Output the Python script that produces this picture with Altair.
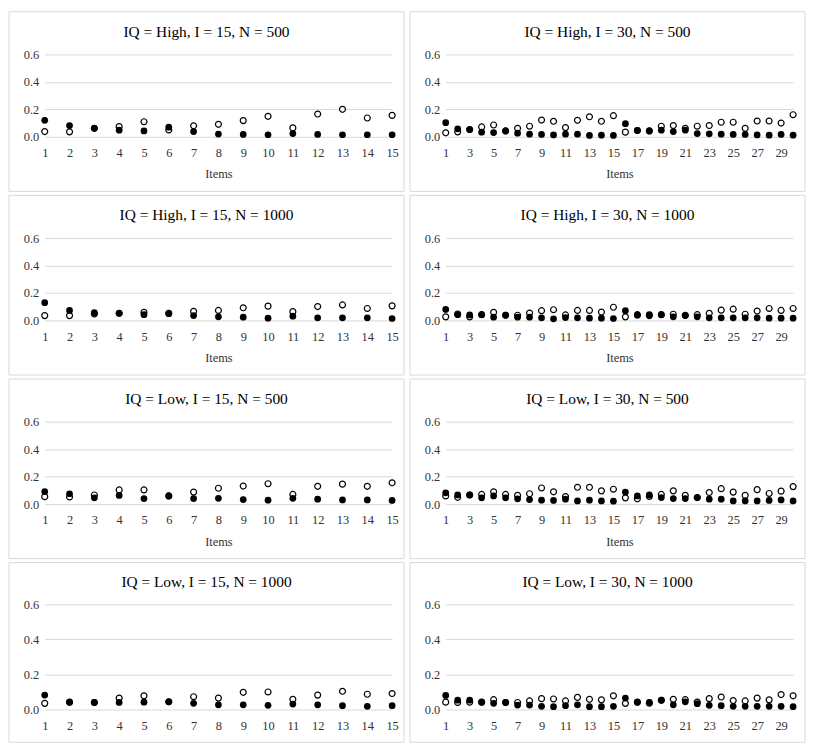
import altair as alt
import pandas as pd

# ---- data ----
items15 = list(range(1, 16))
items30 = list(range(1, 31))
ticks15 = list(range(1, 16))
ticks30 = list(range(1, 30, 2))
y_ticks = [0.0, 0.2, 0.4, 0.6]

hi15_500_filled = [0.120, 0.082, 0.062, 0.048, 0.043, 0.070, 0.038, 0.020, 0.017, 0.015, 0.024, 0.017, 0.015, 0.015, 0.015]
hi15_500_open = [0.038, 0.036, 0.062, 0.074, 0.110, 0.050, 0.080, 0.091, 0.118, 0.149, 0.065, 0.166, 0.200, 0.137, 0.156]

hi30_500_filled = [0.103, 0.058, 0.053, 0.034, 0.031, 0.043, 0.026, 0.019, 0.017, 0.014, 0.019, 0.019, 0.010, 0.012, 0.010,
                   0.096, 0.046, 0.043, 0.048, 0.038, 0.048, 0.024, 0.022, 0.019, 0.017, 0.017, 0.014, 0.012, 0.017, 0.012]
hi30_500_open = [0.029, 0.036, 0.053, 0.072, 0.086, 0.043, 0.062, 0.077, 0.122, 0.113, 0.067, 0.120, 0.146, 0.113, 0.154,
                 0.034, 0.046, 0.043, 0.077, 0.082, 0.062, 0.077, 0.082, 0.106, 0.106, 0.062, 0.115, 0.115, 0.100, 0.161]

hi15_1000_filled = [0.129, 0.073, 0.056, 0.052, 0.042, 0.049, 0.035, 0.026, 0.024, 0.016, 0.031, 0.019, 0.019, 0.019, 0.014]
hi15_1000_open = [0.035, 0.035, 0.047, 0.052, 0.059, 0.052, 0.066, 0.073, 0.092, 0.104, 0.064, 0.101, 0.113, 0.087, 0.106]

hi30_1000_filled = [0.080, 0.042, 0.040, 0.042, 0.024, 0.038, 0.024, 0.024, 0.019, 0.012, 0.021, 0.019, 0.016, 0.016, 0.014,
                    0.071, 0.038, 0.042, 0.042, 0.026, 0.035, 0.026, 0.019, 0.019, 0.019, 0.019, 0.019, 0.016, 0.016, 0.016]
hi30_1000_open = [0.026, 0.047, 0.026, 0.042, 0.059, 0.038, 0.038, 0.054, 0.071, 0.078, 0.040, 0.073, 0.073, 0.061, 0.096,
                  0.026, 0.042, 0.035, 0.042, 0.045, 0.038, 0.042, 0.052, 0.075, 0.082, 0.045, 0.068, 0.087, 0.073, 0.087]

lo15_500_filled = [0.091, 0.075, 0.045, 0.063, 0.040, 0.059, 0.040, 0.042, 0.033, 0.028, 0.042, 0.035, 0.030, 0.030, 0.026]
lo15_500_open = [0.054, 0.052, 0.066, 0.103, 0.103, 0.059, 0.087, 0.115, 0.131, 0.148, 0.070, 0.129, 0.145, 0.129, 0.155]

lo30_500_filled = [0.082, 0.066, 0.066, 0.045, 0.059, 0.045, 0.038, 0.033, 0.028, 0.026, 0.035, 0.023, 0.028, 0.023, 0.021,
                   0.087, 0.059, 0.066, 0.047, 0.040, 0.040, 0.047, 0.035, 0.035, 0.023, 0.023, 0.023, 0.026, 0.030, 0.023]
lo30_500_open = [0.059, 0.049, 0.066, 0.070, 0.089, 0.070, 0.063, 0.075, 0.117, 0.089, 0.054, 0.122, 0.122, 0.096, 0.108,
                 0.045, 0.038, 0.056, 0.070, 0.096, 0.063, 0.047, 0.084, 0.112, 0.087, 0.063, 0.105, 0.077, 0.094, 0.127]

lo15_1000_filled = [0.082, 0.042, 0.040, 0.040, 0.042, 0.044, 0.035, 0.027, 0.027, 0.024, 0.031, 0.027, 0.022, 0.018, 0.022]
lo15_1000_open = [0.035, 0.042, 0.040, 0.065, 0.078, 0.044, 0.073, 0.065, 0.098, 0.100, 0.058, 0.082, 0.104, 0.087, 0.091]

lo30_1000_filled = [0.080, 0.053, 0.053, 0.042, 0.035, 0.040, 0.025, 0.025, 0.018, 0.016, 0.022, 0.027, 0.016, 0.016, 0.018,
                    0.065, 0.042, 0.040, 0.053, 0.027, 0.044, 0.033, 0.024, 0.022, 0.018, 0.018, 0.018, 0.018, 0.018, 0.016]
lo30_1000_open = [0.042, 0.040, 0.042, 0.042, 0.056, 0.040, 0.040, 0.049, 0.062, 0.060, 0.049, 0.069, 0.058, 0.055, 0.078,
                  0.035, 0.042, 0.036, 0.053, 0.058, 0.056, 0.042, 0.062, 0.071, 0.051, 0.049, 0.065, 0.055, 0.085, 0.078]

FONT = "Liberation Serif"
BORDER = "#d9d9d9"
LABEL = "#333333"


def panel(title, items, ticks, filled, hollow, bottom=False):
    n = len(items)
    df = pd.DataFrame({
        "item": items + items,
        "value": filled + hollow,
        "series": ["filled"] * n + ["open"] * n,
    })
    pw = 350
    left, right = 36, 12
    if bottom:
        ph, top, below = 106, 42, 33
    else:
        ph, top, below = 83, 43, 55

    x = alt.X("item:Q",
              scale=alt.Scale(domain=[items[0], items[-1]], nice=False, zero=False),
              axis=alt.Axis(values=ticks, title=None if bottom else "Items",
                            grid=False, domain=False, ticks=False,
                            labelFont=FONT, labelFontSize=12.5, labelColor=LABEL,
                            titleFont=FONT, titleFontSize=12.5, titleColor=LABEL,
                            titleFontWeight="normal",
                            labelPadding=10, titlePadding=9,
                            labelFlush=False, labelOverlap=False))
    y = alt.Y("value:Q",
              scale=alt.Scale(domain=[0, 0.6], nice=False),
              axis=alt.Axis(values=y_ticks, format=".1f", title=None,
                            labelFont=FONT, labelFontSize=12.5, labelColor=LABEL,
                            grid=True, gridColor=BORDER, gridWidth=1,
                            domain=False, ticks=False, labelPadding=6))

    frame = alt.Chart(pd.DataFrame({"k": [0]})).mark_rect(
        fillOpacity=0, stroke=BORDER, strokeWidth=1
    ).encode(x=alt.value(-left), x2=alt.value(pw + right),
             y=alt.value(-top), y2=alt.value(ph + below))

    ttl = alt.Chart(pd.DataFrame({"t": [title]})).mark_text(
        font=FONT, fontSize=15.5, color="black", align="center", baseline="middle"
    ).encode(text="t:N", x=alt.value((pw + right - left) / 2), y=alt.value(-top + 20))

    hollow_pts = alt.Chart(df[df.series == "open"]).mark_point(
        shape="circle", filled=True, fill="white", stroke="black",
        strokeWidth=1.2, size=36, opacity=1
    ).encode(x=x, y=y)

    filled_pts = alt.Chart(df[df.series == "filled"]).mark_circle(
        size=46, color="black", opacity=1
    ).encode(x=x, y=y)

    return alt.layer(frame, ttl, hollow_pts, filled_pts).properties(width=pw, height=ph)


rows = [
    alt.hconcat(panel("IQ = High, I = 15, N = 500", items15, ticks15, hi15_500_filled, hi15_500_open),
                panel("IQ = High, I = 30, N = 500", items30, ticks30, hi30_500_filled, hi30_500_open), spacing=4),
    alt.hconcat(panel("IQ = High, I = 15, N = 1000", items15, ticks15, hi15_1000_filled, hi15_1000_open),
                panel("IQ = High, I = 30, N = 1000", items30, ticks30, hi30_1000_filled, hi30_1000_open), spacing=4),
    alt.hconcat(panel("IQ = Low, I = 15, N = 500", items15, ticks15, lo15_500_filled, lo15_500_open),
                panel("IQ = Low, I = 30, N = 500", items30, ticks30, lo30_500_filled, lo30_500_open), spacing=4),
    alt.hconcat(panel("IQ = Low, I = 15, N = 1000", items15, ticks15, lo15_1000_filled, lo15_1000_open, bottom=True),
                panel("IQ = Low, I = 30, N = 1000", items30, ticks30, lo30_1000_filled, lo30_1000_open, bottom=True), spacing=4),
]

chart = alt.vconcat(*rows, spacing=2).properties(
    padding=0, background="white"
).configure_view(stroke=None).configure_axis(
    labelFont=FONT, labelFontSize=12.5, labelColor=LABEL,
    titleFont=FONT, titleFontSize=12.5, titleColor=LABEL, titleFontWeight="normal"
)

chart.save("out.html", embed_options={"renderer": "svg", "actions": False})
